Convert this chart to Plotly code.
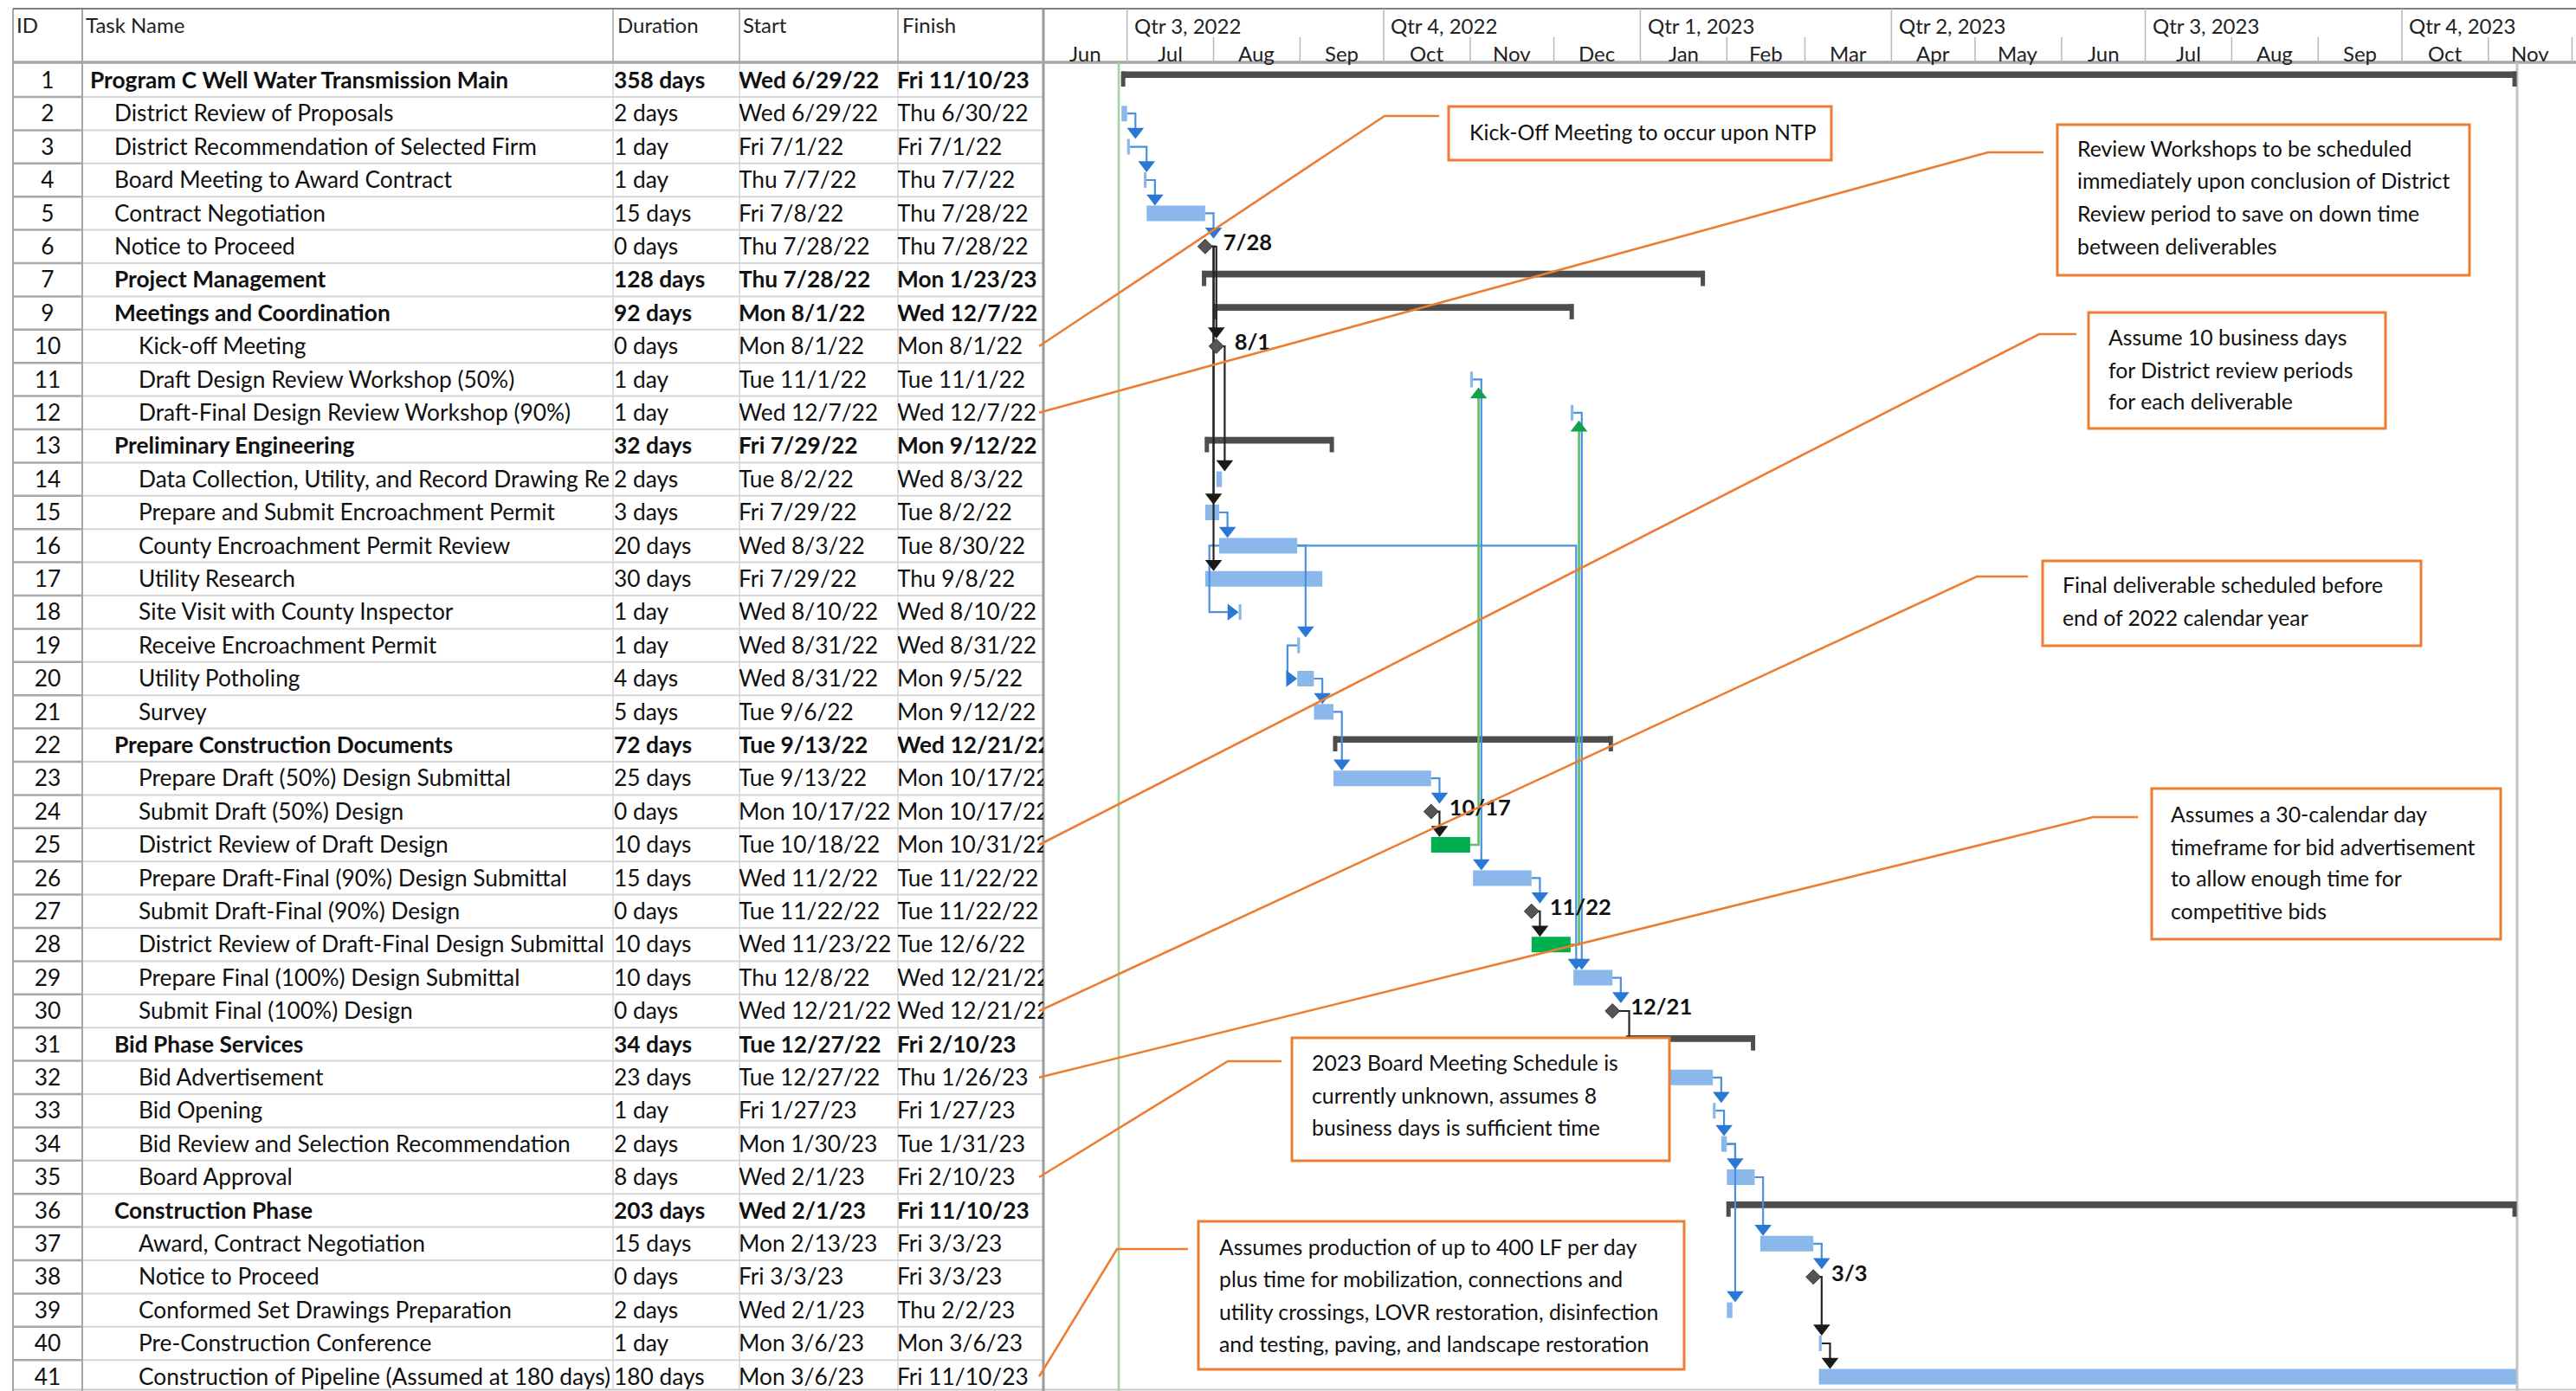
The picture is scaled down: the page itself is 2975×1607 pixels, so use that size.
import plotly.graph_objects as go
import pandas as pd

W, H = 2975, 1607
FONT = "Lato"

# ---------------- data ----------------
task_ids = [1, 2, 3, 4, 5, 6, 7, 9, 10, 11, 12, 13, 14, 15, 16, 17, 18, 19, 20, 21,
            22, 23, 24, 25, 26, 27, 28, 29, 30, 31, 32, 33, 34, 35, 36, 37, 38, 39, 40, 41]
task_names = [
    "Program C Well Water Transmission Main", "District Review of Proposals",
    "District Recommendation of Selected Firm", "Board Meeting to Award Contract",
    "Contract Negotiation", "Notice to Proceed", "Project Management",
    "Meetings and Coordination", "Kick-off Meeting", "Draft Design Review Workshop (50%)",
    "Draft-Final Design Review Workshop (90%)", "Preliminary Engineering",
    "Data Collection, Utility, and Record Drawing Re", "Prepare and Submit Encroachment Permit",
    "County Encroachment Permit Review", "Utility Research", "Site Visit with County Inspector",
    "Receive Encroachment Permit", "Utility Potholing", "Survey", "Prepare Construction Documents",
    "Prepare Draft (50%) Design Submittal", "Submit Draft (50%) Design",
    "District Review of Draft Design", "Prepare Draft-Final (90%) Design Submittal",
    "Submit Draft-Final (90%) Design", "District Review of Draft-Final Design Submittal",
    "Prepare Final (100%) Design Submittal", "Submit Final (100%) Design", "Bid Phase Services",
    "Bid Advertisement", "Bid Opening", "Bid Review and Selection Recommendation", "Board Approval",
    "Construction Phase", "Award, Contract Negotiation", "Notice to Proceed",
    "Conformed Set Drawings Preparation", "Pre-Construction Conference",
    "Construction of Pipeline (Assumed at 180 days)"]
durations = ["358 days", "2 days", "1 day", "1 day", "15 days", "0 days", "128 days", "92 days",
             "0 days", "1 day", "1 day", "32 days", "2 days", "3 days", "20 days", "30 days",
             "1 day", "1 day", "4 days", "5 days", "72 days", "25 days", "0 days", "10 days",
             "15 days", "0 days", "10 days", "10 days", "0 days", "34 days", "23 days", "1 day",
             "2 days", "8 days", "203 days", "15 days", "0 days", "2 days", "1 day", "180 days"]
start_labels = ["Wed 6/29/22", "Wed 6/29/22", "Fri 7/1/22", "Thu 7/7/22", "Fri 7/8/22",
                "Thu 7/28/22", "Thu 7/28/22", "Mon 8/1/22", "Mon 8/1/22", "Tue 11/1/22",
                "Wed 12/7/22", "Fri 7/29/22", "Tue 8/2/22", "Fri 7/29/22", "Wed 8/3/22",
                "Fri 7/29/22", "Wed 8/10/22", "Wed 8/31/22", "Wed 8/31/22", "Tue 9/6/22",
                "Tue 9/13/22", "Tue 9/13/22", "Mon 10/17/22", "Tue 10/18/22", "Wed 11/2/22",
                "Tue 11/22/22", "Wed 11/23/22", "Thu 12/8/22", "Wed 12/21/22", "Tue 12/27/22",
                "Tue 12/27/22", "Fri 1/27/23", "Mon 1/30/23", "Wed 2/1/23", "Wed 2/1/23",
                "Mon 2/13/23", "Fri 3/3/23", "Wed 2/1/23", "Mon 3/6/23", "Mon 3/6/23"]
finish_labels = ["Fri 11/10/23", "Thu 6/30/22", "Fri 7/1/22", "Thu 7/7/22", "Thu 7/28/22",
                 "Thu 7/28/22", "Mon 1/23/23", "Wed 12/7/22", "Mon 8/1/22", "Tue 11/1/22",
                 "Wed 12/7/22", "Mon 9/12/22", "Wed 8/3/22", "Tue 8/2/22", "Tue 8/30/22",
                 "Thu 9/8/22", "Wed 8/10/22", "Wed 8/31/22", "Mon 9/5/22", "Mon 9/12/22",
                 "Wed 12/21/22", "Mon 10/17/22", "Mon 10/17/22", "Mon 10/31/22", "Tue 11/22/22",
                 "Tue 11/22/22", "Tue 12/6/22", "Wed 12/21/22", "Wed 12/21/22", "Fri 2/10/23",
                 "Thu 1/26/23", "Fri 1/27/23", "Tue 1/31/23", "Fri 2/10/23", "Fri 11/10/23",
                 "Fri 3/3/23", "Fri 3/3/23", "Thu 2/2/23", "Mon 3/6/23", "Fri 11/10/23"]
outline_levels = [0, 1, 1, 1, 1, 1, 1, 1, 2, 2, 2, 1, 2, 2, 2, 2, 2, 2, 2, 2,
                  1, 2, 2, 2, 2, 2, 2, 2, 2, 1, 2, 2, 2, 2, 1, 2, 2, 2, 2, 2]
summary_ids = [1, 7, 9, 13, 22, 31, 36]
critical_ids = [25, 28]

# predecessor, successor, link type, colour group
links = [(2, 3, "FS", "blue"), (3, 4, "FS", "blue"), (4, 5, "FS", "blue"), (5, 6, "FS", "blue"),
         (6, 10, "FS", "black"), (6, 15, "FS", "black"), (6, 17, "FS", "black"),
         (10, 14, "FS", "black"), (15, 16, "FS", "blue"), (16, 18, "SS", "blue"),
         (16, 19, "FS", "blue"), (16, 29, "FS", "blue"), (19, 20, "SS", "blue"),
         (20, 21, "FS", "blue"), (21, 23, "FS", "blue"), (23, 24, "FS", "blue"),
         (24, 25, "FS", "black"), (25, 11, "FS", "green"), (11, 26, "FS", "blue"),
         (26, 27, "FS", "blue"), (27, 28, "FS", "black"), (28, 12, "FS", "green"),
         (12, 29, "FS", "blue"), (29, 30, "FS", "blue"), (30, 31, "FS", "black"),
         (32, 33, "FS", "blue"), (33, 34, "FS", "blue"), (34, 35, "FS", "blue"),
         (34, 39, "FS", "blue"), (35, 37, "FS", "blue"), (37, 38, "FS", "blue"),
         (38, 40, "FS", "black"), (40, 41, "FS", "black")]

quarter_labels = ["Qtr 3, 2022", "Qtr 4, 2022", "Qtr 1, 2023", "Qtr 2, 2023", "Qtr 3, 2023", "Qtr 4, 2023"]
month_labels = ["Jun", "Jul", "Aug", "Sep", "Oct", "Nov", "Dec", "Jan", "Feb", "Mar",
                "Apr", "May", "Jun", "Jul", "Aug", "Sep", "Oct", "Nov"]
timeline_start = "2022-06-01"
status_line_date = "2022-06-28"

callout_lines = [
    ["Kick-Off Meeting to occur upon NTP"],
    ["Review Workshops to be scheduled", "immediately upon conclusion of District",
     "Review period to save on down time", "between deliverables"],
    ["Assume 10 business days", "for District review periods", "for each deliverable"],
    ["Final deliverable scheduled before", "end of 2022 calendar year"],
    ["Assumes a 30-calendar day", "timeframe for bid advertisement", "to allow enough time for",
     "competitive bids"],
    ["2023 Board Meeting Schedule is", "currently unknown, assumes 8", "business days is sufficient time"],
    ["Assumes production of up to 400 LF per day", "plus time for mobilization, connections and",
     "utility crossings, LOVR restoration, disinfection", "and testing, paving, and landscape restoration"],
]
callout_target_ids = [10, 12, 25, 30, 32, 35, 41]

# ---------------- layout geometry (pixels) ----------------
ROW0, PITCH = 92.8, 38.4
HDR_TOP, HDR_BOT = 10, 72
COLS = [15, 95, 708, 854, 1037, 1205]
TL_LEFT = 1205
Y_TOP_VAL = -0.5
Y_BOT_VAL = (H - ROW0) / PITCH
TXT_DY = 0.07


def px(x):
    return x / W


def py(y):
    return 1 - y / H


def row_px(i):
    return ROW0 + PITCH * i


DAY = pd.Timedelta(days=1)
n = len(task_ids)
row_of = {t: i for i, t in enumerate(task_ids)}
start_dt = [pd.to_datetime(s.split()[1], format="%m/%d/%y") for s in start_labels]
finish_dt = [pd.to_datetime(s.split()[1], format="%m/%d/%y") for s in finish_labels]
end_dt = [f + DAY for f in finish_dt]
kind = []
for t, d in zip(task_ids, durations):
    if t in summary_ids:
        kind.append("summary")
    elif d.startswith("0 "):
        kind.append("milestone")
    elif t in critical_ids:
        kind.append("critical")
    else:
        kind.append("task")

px_per_day = 3.2216
t_end = pd.Timestamp(timeline_start) + pd.Timedelta(days=(W - TL_LEFT) / px_per_day)

fig = go.Figure()

# ---------------- table text (clipped per column) ----------------
rows = list(range(n))
trows = [r + TXT_DY for r in rows]
bold = [k == "summary" for k in kind]


def fmt(s, b):
    return f"<b>{s}</b>" if b else s


tf = dict(family=FONT, size=26.3, color="#111111")
fig.add_trace(go.Scatter(x=[55] * n, y=trows, mode="text", text=[str(t) for t in task_ids],
                         textposition="middle center", textfont=tf, xaxis="x2", yaxis="y",
                         hoverinfo="skip", cliponaxis=True))
fig.add_trace(go.Scatter(x=[104 + 28 * lv for lv in outline_levels], y=trows, mode="text",
                         text=[fmt(s, b) for s, b in zip(task_names, bold)],
                         textposition="middle right", textfont=tf, xaxis="x3", yaxis="y",
                         hoverinfo="skip", cliponaxis=True))
for ax, x0, vals in [("x4", 709, durations), ("x5", 853, start_labels), ("x6", 1036, finish_labels)]:
    fig.add_trace(go.Scatter(x=[x0] * n, y=trows, mode="text",
                             text=[fmt(s, b) for s, b in zip(vals, bold)],
                             textposition="middle right", textfont=tf, xaxis=ax, yaxis="y",
                             hoverinfo="skip", cliponaxis=True))

# ---------------- gantt bars ----------------
def bar_trace(ids_kind, color, width, offset=None):
    sel = [i for i in range(n) if kind[i] in ids_kind]
    return go.Bar(orientation="h", y=sel,
                  base=[start_dt[i].isoformat() for i in sel],
                  x=[(end_dt[i] - start_dt[i]).total_seconds() * 1000 for i in sel],
                  width=width, offset=offset, marker=dict(color=color, line=dict(width=0)),
                  xaxis="x", yaxis="y", hoverinfo="skip", showlegend=False)


fig.add_trace(bar_trace(["summary"], "#4d4d4d", 0.2, -0.27))
fig.add_trace(bar_trace(["task"], "#8ab8eb", 0.47, -0.235))
fig.add_trace(bar_trace(["critical"], "#00b050", 0.47, -0.235))

# summary end caps
cx, cy = [], []
for i in range(n):
    if kind[i] == "summary":
        for xx in (start_dt[i] + 0.6 * DAY, end_dt[i] - 0.6 * DAY):
            cx += [xx.isoformat(), xx.isoformat(), None]
            cy += [i - 0.27, i + 0.19, None]
fig.add_trace(go.Scatter(x=cx, y=cy, mode="lines", line=dict(color="#4d4d4d", width=5),
                         xaxis="x", yaxis="y", hoverinfo="skip", showlegend=False))

# ---------------- dependency links ----------------
line_col = {"blue": "#4a8fe0", "black": "#262626", "green": "#5cbf6a"}
head_col = {"blue": "#2b78d4", "black": "#1a1a1a", "green": "#12a048"}
paths = {c: ([], []) for c in line_col}
heads = {}
HEAD_OFF = 17.5 / PITCH
for p, s, typ, col in links:
    ip, is_ = row_of[p], row_of[s]
    if typ == "FS":
        x0 = end_dt[ip]
        xd = max(end_dt[ip] + 3 * DAY, start_dt[is_] + DAY)
        if kind[is_] == "summary":
            tip = is_ - 0.17
            head = None
        elif is_ > ip:
            tip = is_ - 0.3
            head = ("triangle-down", xd, is_ - HEAD_OFF)
        else:
            tip = is_ + 0.3
            head = ("triangle-up", xd, is_ + HEAD_OFF)
        pts = [(x0, ip), (xd, ip), (xd, tip)]
    else:
        x0 = start_dt[ip]
        xl = x0 - 3.5 * DAY
        xa = start_dt[is_] - (8.5 / px_per_day) * DAY
        pts = [(x0, ip), (xl, ip), (xl, is_), (xa, is_)]
        head = ("triangle-right", xa, is_)
    xs, ys = paths[col]
    for xx, yy in pts:
        xs.append(xx.isoformat())
        ys.append(yy)
    xs.append(None)
    ys.append(None)
    if head:
        heads.setdefault((head[0], col), ([], []))
        heads[(head[0], col)][0].append(head[1].isoformat())
        heads[(head[0], col)][1].append(head[2])

for col, (xs, ys) in paths.items():
    fig.add_trace(go.Scatter(x=xs, y=ys, mode="lines",
                             line=dict(color=line_col[col], width=2.2 if col != "green" else 2.6),
                             xaxis="x", yaxis="y", hoverinfo="skip", showlegend=False))
for (sym, col), (xs, ys) in heads.items():
    fig.add_trace(go.Scatter(x=xs, y=ys, mode="markers",
                             marker=dict(symbol=sym, size=17, color=head_col[col], line=dict(width=0)),
                             xaxis="x", yaxis="y", hoverinfo="skip", showlegend=False))

# ---------------- milestones ----------------
ms = [i for i in range(n) if kind[i] == "milestone"]
fig.add_trace(go.Scatter(x=[end_dt[i].isoformat() for i in ms], y=ms, mode="markers",
                         marker=dict(symbol="diamond", size=13, color="#555555",
                                     line=dict(color="#333333", width=1)),
                         xaxis="x", yaxis="y", hoverinfo="skip", showlegend=False))
fig.add_trace(go.Scatter(x=[(end_dt[i] + 6.5 * DAY).isoformat() for i in ms],
                         y=[i - 0.05 for i in ms], mode="text",
                         text=[f"<b>{finish_dt[i].month}/{finish_dt[i].day}</b>" for i in ms],
                         textposition="middle right",
                         textfont=dict(family=FONT, size=25.5, color="#111111"),
                         xaxis="x", yaxis="y", hoverinfo="skip", showlegend=False))

# ---------------- shapes: grid, header ----------------
shapes = []


def pline(x0, y0, x1, y1, color, width, layer="below"):
    shapes.append(dict(type="line", xref="paper", yref="paper", x0=px(x0), y0=py(y0),
                       x1=px(x1), y1=py(y1), line=dict(color=color, width=width), layer=layer))


# row separators
for k in range(n - 1):
    yy = ROW0 + PITCH * (k + 0.5)
    pline(COLS[1], yy, TL_LEFT, yy, "#d6d6d6", 2)
    pline(COLS[0], yy, COLS[1], yy, "#a8a8a8", 2.5)
pline(COLS[0], H - 1.5, W, H - 1.5, "#c8c8c8", 2)
# vertical column lines
for c in COLS[2:5]:
    pline(c, HDR_TOP, c, HDR_BOT, "#a6a6a6", 1.5)
    pline(c, HDR_BOT, c, H, "#d6d6d6", 1.5)
pline(COLS[0], HDR_TOP, COLS[0], H, "#a6a6a6", 2)
pline(COLS[1], HDR_TOP, COLS[1], H, "#a6a6a6", 2)
pline(TL_LEFT, HDR_TOP, TL_LEFT, H, "#9a9a9a", 3)
# header lines
pline(COLS[0], HDR_TOP, W, HDR_TOP, "#7f7f7f", 2)
pline(COLS[0], HDR_BOT, W, HDR_BOT, "#a6a6a6", 3.5)

# timeline header dividers
months = pd.date_range(timeline_start, periods=len(month_labels) + 1, freq="MS")
quarters = pd.date_range("2022-07-01", periods=len(quarter_labels), freq="QS")
annotations = []
for m0, m1, lab in zip(months[:-1], months[1:], month_labels):
    if m0 != months[0]:
        top = HDR_TOP if m0 in quarters else 43
        shapes.append(dict(type="line", xref="x", yref="paper", x0=m0.isoformat(), x1=m0.isoformat(),
                           y0=py(HDR_BOT), y1=py(top), line=dict(color="#b8b8b8", width=1.5),
                           layer="below"))
    annotations.append(dict(x=(m0 + (m1 - m0) / 2).isoformat(), y=py(61), xref="x", yref="paper",
                            text=lab, showarrow=False, xanchor="center", yanchor="middle",
                            font=dict(family=FONT, size=24, color="#222222")))
for q, lab in zip(quarters, quarter_labels):
    annotations.append(dict(x=(q + 2 * DAY).isoformat(), y=py(30), xref="x", yref="paper",
                            text=lab, showarrow=False, xanchor="left", yanchor="middle",
                            font=dict(family=FONT, size=24, color="#222222")))
# last month right border
shapes.append(dict(type="line", xref="x", yref="paper", x0=months[-1].isoformat(),
                   x1=months[-1].isoformat(), y0=py(HDR_BOT), y1=py(43),
                   line=dict(color="#b8b8b8", width=1.5), layer="below"))

# status line and project finish line
shapes.append(dict(type="line", xref="x", yref="paper", x0=status_line_date, x1=status_line_date,
                   y0=0, y1=py(HDR_BOT), line=dict(color="#9fd49f", width=2.5), layer="below"))
fin = (end_dt[0] + 0.3 * DAY).isoformat()
shapes.append(dict(type="line", xref="x", yref="paper", x0=fin, x1=fin, y0=0, y1=py(HDR_BOT),
                   line=dict(color="#c4c4c4", width=3), layer="below"))

# table header text
for x0, lab in zip([17, 97, 711, 856, 1040], ["ID", "Task Name", "Duration", "Start", "Finish"]):
    annotations.append(dict(x=px(x0), y=py(28), xref="paper", yref="paper", text=lab,
                            showarrow=False, xanchor="left", yanchor="middle",
                            font=dict(family=FONT, size=24, color="#222222")))

# ---------------- callouts ----------------
ORANGE = "#ed7d31"
callout_boxes = [(1673, 123, 2115, 185), (2376, 144, 2852, 318), (2412, 361, 2755, 495),
                 (2359, 648, 2796, 746), (2485, 911, 2888, 1085), (1492, 1199, 1928, 1341),
                 (1384, 1411, 1945, 1582)]
callout_text_x = [1695, 2397, 2433, 2380, 2505, 1513, 1406]
callout_line_y = [[152], [171, 209, 246, 284], [390, 427, 463], [676, 714],
                  [940, 978, 1014, 1052], [1227, 1265, 1302], [1440, 1477, 1515, 1552]]
# leader: bend point and horizontal end
callout_leader = [((1599, 134), 1662), ((2296, 176), 2360), ((2355, 386), 2398),
                  ((2283, 666), 2342), ((2417, 944), 2469), ((1418, 1226), 1480),
                  ((1290, 1443), 1372)]
for box, tx, lys, lines, (bend, hend), tid in zip(callout_boxes, callout_text_x, callout_line_y,
                                                 callout_lines, callout_leader, callout_target_ids):
    ty = row_px(row_of[tid])
    path = f"M {px(1200)},{py(ty)} L {px(bend[0])},{py(bend[1])} L {px(hend)},{py(bend[1])}"
    shapes.append(dict(type="path", xref="paper", yref="paper", path=path,
                       line=dict(color=ORANGE, width=2.6), layer="above"))
    shapes.append(dict(type="rect", xref="paper", yref="paper", x0=px(box[0]), y0=py(box[1]),
                       x1=px(box[2]), y1=py(box[3]), fillcolor="white",
                       line=dict(color=ORANGE, width=3), layer="above"))
    for ly, txt in zip(lys, lines):
        annotations.append(dict(x=px(tx), y=py(ly), xref="paper", yref="paper", text=txt,
                                showarrow=False, xanchor="left", yanchor="middle",
                                font=dict(family=FONT, size=24.8, color="#111111")))

# ---------------- layout ----------------
ydom = [0, py(ROW0 + PITCH * Y_TOP_VAL)]
layout = dict(
    width=W, height=H, margin=dict(l=0, r=0, t=0, b=0),
    paper_bgcolor="white", plot_bgcolor="white", showlegend=False, barmode="overlay",
    xaxis=dict(type="date", domain=[px(TL_LEFT), 1], range=[timeline_start, t_end.isoformat()],
               visible=False, anchor="y"),
    yaxis=dict(domain=ydom, range=[Y_BOT_VAL, Y_TOP_VAL], visible=False, anchor="x"),
    shapes=shapes, annotations=annotations,
)
for k, (a, b) in enumerate(zip(COLS[:-1], COLS[1:]), start=2):
    layout[f"xaxis{k}"] = dict(domain=[px(a), px(b)], range=[a, b], visible=False, anchor="y")
fig.update_layout(**layout)

fig.write_html("out.html", include_plotlyjs=True, config={"displayModeBar": False},
               post_script="document.body.style.margin='0';document.body.style.overflow='hidden';")
